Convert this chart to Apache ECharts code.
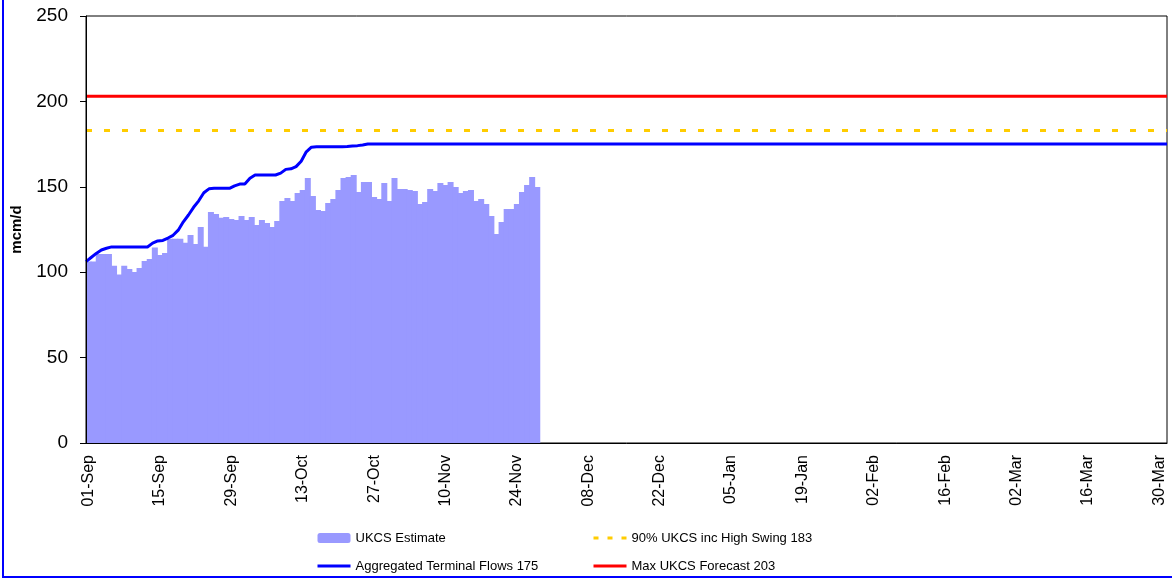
<!DOCTYPE html>
<html>
<head>
<meta charset="utf-8">
<script src="https://cdn.jsdelivr.net/npm/echarts@6/dist/echarts.min.js"></script>
<style>
  html, body { margin: 0; padding: 0; background: #fff; }
  #main { width: 1172px; height: 579px; }
</style>
</head>
<body>
<div id="main"></div>
<script>
// months of the gas year shown, Sep .. Mar
let monthNames = ['Sep', 'Oct', 'Nov', 'Dec', 'Jan', 'Feb', 'Mar'];
let monthDays = [30, 31, 30, 31, 31, 28, 31];

let days = [];
for (let m = 0; m < monthNames.length; ++m) {
  for (let d = 1; d <= monthDays[m]; ++d) {
    days.push((d < 10 ? '0' + d : '' + d) + '-' + monthNames[m]);
  }
}

// UKCS Estimate, 01-Sep .. 28-Nov (mcm/d)
let ukcsEstimate = [
  106.2, 106.2, 110.7, 110.7, 110.7, 103.8, 98.6, 103.8, 101.9, 100.1,
  102.5, 106.6, 107.7, 114.4, 110.1, 111.2, 119.6, 119.6, 119.6, 117.3,
  121.8, 116.5, 126.5, 114.9, 135.2, 134.1, 131.9, 132.3, 131.1, 130.6,
  132.9, 130.6, 132.3, 127.6, 130.6, 128.8, 126.5, 130.0, 141.7, 143.4,
  141.7, 146.4, 148.1, 155.2, 144.6, 136.4, 135.8, 140.5, 142.9, 148.1,
  155.2, 155.7, 156.9, 147.0, 152.8, 152.8, 144.0, 142.9, 152.2, 141.7,
  155.2, 148.7, 148.7, 148.1, 147.5, 139.9, 141.1, 148.7, 147.5, 152.2,
  151.1, 152.8, 149.9, 146.4, 147.5, 148.1, 141.7, 142.9, 139.9, 132.9,
  122.4, 129.4, 137.0, 137.0, 139.9, 147.0, 151.1, 155.7, 149.9
];

// Aggregated Terminal Flows, rising part from 01-Sep, then flat at 175
let flowsRising = [
  106.2, 108.6, 111.0, 113.0, 114.0, 114.8, 114.8, 114.8, 114.8, 114.8,
  114.8, 114.8, 114.8, 117.0, 118.3, 118.6, 120.0, 121.6, 124.6, 129.5,
  133.5, 138.0, 141.8, 146.5, 148.8, 149.1, 149.1, 149.1, 149.1, 150.5,
  151.6, 151.6, 155.0, 156.9, 156.9, 156.9, 156.9, 156.9, 158.0, 160.2,
  160.5, 161.8, 165.0, 170.5, 173.2, 173.4, 173.4, 173.4, 173.4, 173.4,
  173.4, 173.6, 173.9, 174.1, 174.5, 175.0
];
let flowsLevel = 175;
let highSwingLevel = 183;
let maxForecastLevel = 203;

let flows = days.map((d, i) => i < flowsRising.length ? flowsRising[i] : flowsLevel);
let highSwing = days.map(() => highSwingLevel);
let maxForecast = days.map(() => maxForecastLevel);

let names = {
  est: 'UKCS Estimate',
  flows: 'Aggregated Terminal Flows 175',
  swing: '90% UKCS inc High Swing 183',
  max: 'Max UKCS Forecast 203'
};

let font = 'Liberation Sans, Arial, sans-serif';
let myChart = echarts.init(document.getElementById('main'));

let legendText = { color: '#000', fontSize: 13, fontFamily: font, lineHeight: 16 };
// hide the marker dot that line series put in their legend icon
let noDot = { color: 'rgba(0,0,0,0)', borderWidth: 0 };

let legendBase = {
  orient: 'vertical',
  top: 530,
  padding: 0, itemGap: 12,
  itemWidth: 33, itemHeight: 10,
  lineStyle: { width: 3 },
  textStyle: legendText
};

let option = {
  animation: false,
  backgroundColor: '#fff',
  grid: {
    left: 86, right: 5, top: 16, bottom: 136,
    show: true, borderColor: '#000', borderWidth: 1
  },
  legend: [
    Object.assign({}, legendBase, {
      left: 316,
      data: [names.est, { name: names.flows, itemStyle: noDot }]
    }),
    Object.assign({}, legendBase, {
      left: 592,
      data: [
        { name: names.swing, itemStyle: noDot, lineStyle: { type: [5, 9] } },
        { name: names.max, itemStyle: noDot }
      ]
    })
  ],
  xAxis: [{
    type: 'category',
    data: days,
    boundaryGap: true,
    z: 5,
    axisLine: { lineStyle: { color: '#000', width: 1 } },
    axisTick: { interval: 13, length: 6, lineStyle: { color: '#000' } },
    axisLabel: {
      interval: 13, rotate: 90, margin: 12,
      color: '#000', fontSize: 16, fontFamily: font
    },
    splitLine: { show: false }
  }, {
    type: 'category',
    data: days,
    boundaryGap: false,
    show: false
  }],
  yAxis: {
    type: 'value',
    min: 0, max: 250, interval: 50,
    z: 5,
    name: 'mcm/d',
    nameLocation: 'middle',
    nameGap: 62,
    nameTextStyle: { color: '#000', fontSize: 15, fontWeight: 'bold', fontFamily: font },
    axisLine: { show: true, lineStyle: { color: '#000', width: 1 } },
    axisTick: { show: true, length: 6, lineStyle: { color: '#000' } },
    axisLabel: { margin: 18, color: '#000', fontSize: 19, fontFamily: font },
    splitLine: { show: false }
  },
  series: [{
    name: names.est,
    type: 'bar',
    data: ukcsEstimate,
    barWidth: 6,
    itemStyle: { color: '#9999ff' }
  }, {
    name: names.swing,
    type: 'line',
    xAxisIndex: 1,
    data: highSwing,
    symbol: 'none',
    lineStyle: { color: '#ffcc00', width: 3, type: [6, 12] },
    itemStyle: { color: '#ffcc00' }
  }, {
    name: names.max,
    type: 'line',
    xAxisIndex: 1,
    data: maxForecast,
    symbol: 'none',
    lineStyle: { color: '#ff0000', width: 3 },
    itemStyle: { color: '#ff0000' }
  }, {
    name: names.flows,
    type: 'line',
    xAxisIndex: 1,
    data: flows,
    symbol: 'none',
    lineStyle: { color: '#0000ff', width: 3 },
    itemStyle: { color: '#0000ff' }
  }],
  graphic: [{
    type: 'polyline',
    shape: { points: [[3, 0], [3, 577], [1172, 577]] },
    style: { stroke: '#0000ff', lineWidth: 2, fill: null }
  }]
};

myChart.setOption(option);
</script>
</body>
</html>
